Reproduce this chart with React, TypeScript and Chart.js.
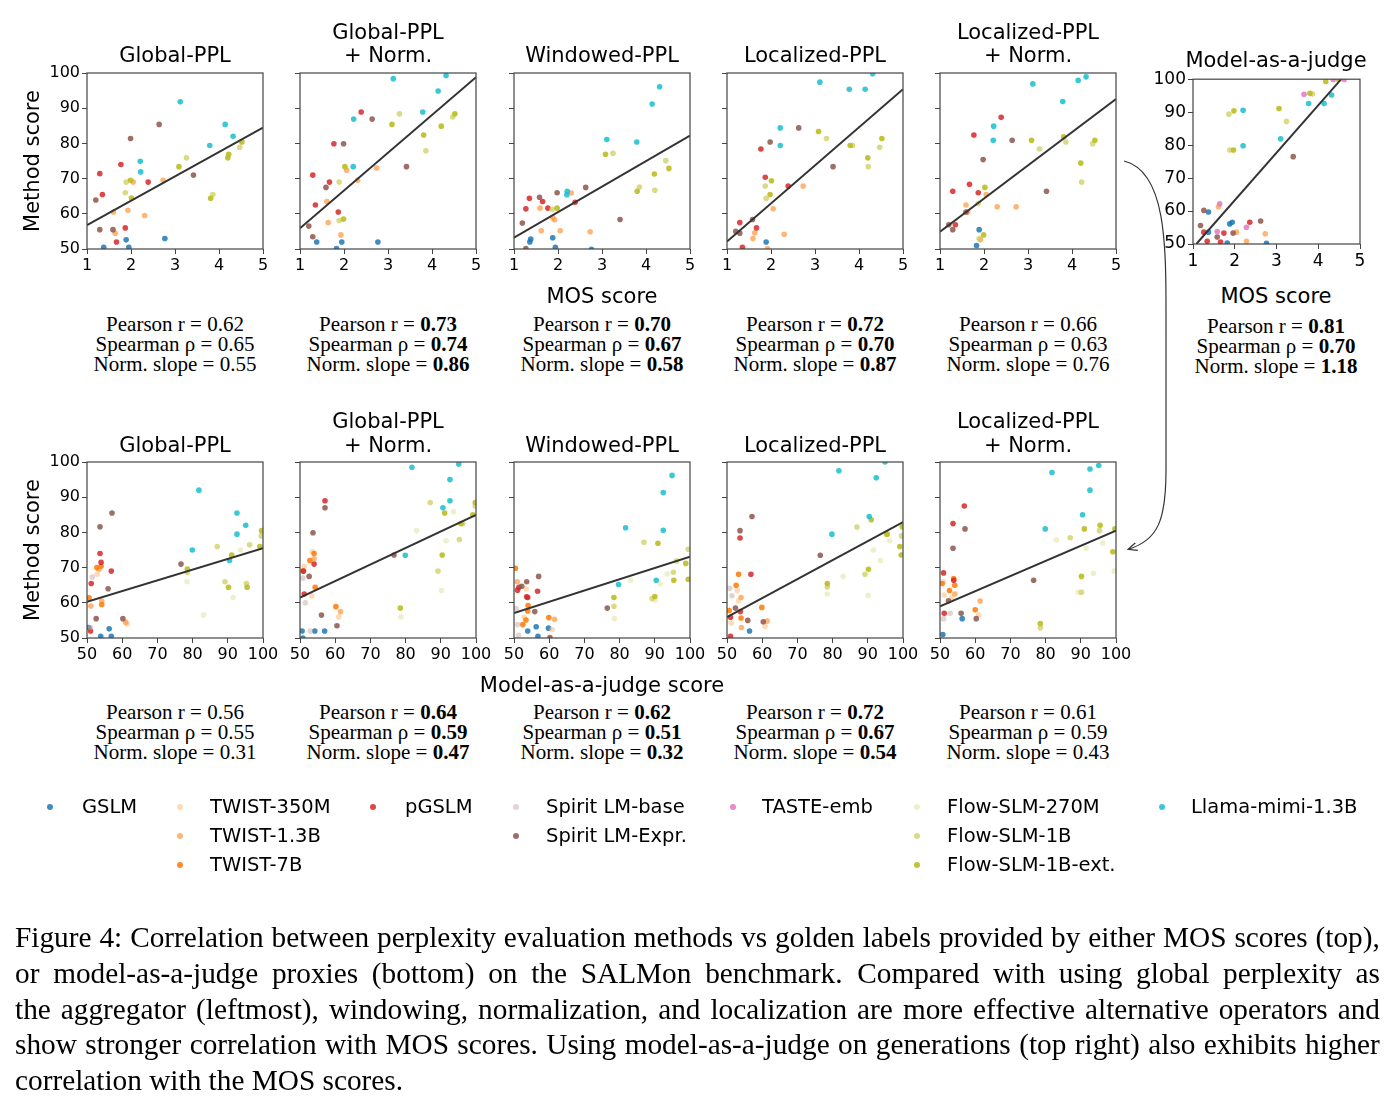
import React, { useEffect, useRef } from "react";
import { Chart, registerables } from "chart.js";
Chart.register(...registerables);

type Pt = [number, number, number];

const SERIES = ["GSLM", "TWIST-350M", "TWIST-1.3B", "TWIST-7B", "pGSLM", "Spirit LM-base", "Spirit LM-Expr.", "TASTE-emb", "Flow-SLM-270M", "Flow-SLM-1B", "Flow-SLM-1B-ext.", "Llama-mimi-1.3B"];
const COLORS = [
  "rgba(31,119,180,0.85)", "rgba(255,187,120,0.55)", "rgba(255,150,60,0.7)", "rgba(255,127,14,0.9)",
  "rgba(214,39,40,0.85)", "rgba(196,170,165,0.5)", "rgba(140,86,75,0.85)", "rgba(227,119,194,0.85)",
  "rgba(219,219,141,0.45)", "rgba(205,205,95,0.75)", "rgba(188,189,34,0.9)", "rgba(23,190,207,0.85)",
];

// ---------- Top row: method score vs MOS ----------
const P1_PTS: Pt[] = [
  [3.12, 91.8, 11], [4.14, 85.4, 11], [4.32, 82.0, 11], [3.79, 79.4, 11], [2.21, 74.9, 11], [2.22, 71.9, 11],
  [2.64, 85.4, 6], [1.99, 81.4, 6], [3.42, 71.0, 6], [1.20, 63.9, 6], [1.29, 55.5, 6], [1.59, 55.5, 6],
  [1.77, 74.0, 4], [1.29, 71.4, 4], [2.39, 69.0, 4], [1.35, 65.5, 4], [1.87, 56.0, 4], [1.67, 52.0, 4],
  [3.26, 75.9, 9], [1.89, 69.0, 9], [1.87, 66.0, 9], [3.86, 65.5, 9], [4.47, 78.9, 9],
  [3.09, 73.4, 10], [1.99, 69.5, 10], [2.01, 64.5, 10], [3.81, 64.4, 10], [4.20, 75.9, 10], [4.22, 76.9, 10], [4.52, 80.4, 10],
  [2.05, 69.0, 2], [2.73, 69.5, 2], [1.93, 61.0, 2], [1.60, 60.5, 2], [2.31, 59.5, 2], [1.64, 54.5, 2],
  [1.89, 52.6, 0], [2.77, 53.0, 0], [1.38, 50.5, 0], [1.95, 50.5, 0],
];
const P2_PTS: Pt[] = [
  [3.12, 98.4, 11], [4.32, 99.3, 11], [4.14, 94.9, 11], [3.79, 88.9, 11], [2.22, 86.9, 11], [2.21, 73.4, 11],
  [2.39, 88.9, 4], [1.77, 79.9, 4], [1.29, 71.0, 4], [1.67, 69.0, 4], [1.35, 62.5, 4], [1.87, 60.5, 4],
  [2.64, 86.9, 6], [1.99, 79.9, 6], [3.42, 73.4, 6], [1.59, 67.5, 6], [1.20, 56.5, 6], [1.29, 53.5, 6],
  [3.09, 85.4, 10], [4.21, 84.9, 10], [4.52, 88.4, 10], [3.81, 82.4, 10], [2.02, 73.4, 10], [1.99, 58.5, 10],
  [3.26, 88.4, 9], [4.47, 87.5, 9], [3.86, 77.9, 9], [1.89, 69.0, 9], [1.89, 58.1, 9],
  [2.06, 72.4, 2], [2.74, 73.0, 2], [2.31, 69.5, 2], [1.61, 63.5, 2], [1.64, 57.5, 2], [1.93, 54.0, 2],
  [1.38, 52.0, 0], [1.95, 52.0, 0], [2.77, 52.0, 0], [1.83, 50.1, 0],
];
const P3_PTS: Pt[] = [
  [4.31, 96.1, 11], [4.14, 91.2, 11], [3.11, 81.1, 11], [3.79, 80.4, 11], [2.21, 66.4, 11], [2.20, 65.4, 11],
  [3.08, 76.9, 10], [4.19, 71.3, 10], [4.52, 72.9, 10], [3.80, 66.4, 10], [1.98, 61.6, 10],
  [3.25, 77.2, 9], [4.45, 75.1, 9], [3.85, 67.6, 9], [4.20, 66.7, 9], [1.87, 61.3, 9],
  [1.35, 64.4, 4], [1.65, 63.5, 4], [1.27, 61.4, 4], [1.77, 61.6, 4], [2.39, 63.3, 4],
  [1.58, 64.7, 6], [1.98, 66.0, 6], [2.63, 67.5, 6], [1.19, 57.4, 6], [3.41, 58.4, 6], [1.27, 50.1, 6],
  [2.30, 65.9, 2], [1.59, 61.6, 2], [1.88, 58.9, 2], [1.92, 58.3, 2], [1.62, 55.2, 2], [2.05, 55.2, 2], [2.73, 54.9, 2],
  [1.38, 52.8, 0], [1.36, 52.0, 0], [1.88, 53.2, 0], [1.94, 50.5, 0], [2.76, 49.9, 0],
];
const P4_PTS: Pt[] = [
  [3.11, 97.4, 11], [4.31, 99.8, 11], [3.78, 95.4, 11], [4.14, 95.4, 11], [2.21, 84.4, 11], [2.21, 79.4, 11],
  [2.63, 84.4, 6], [1.98, 80.4, 6], [3.41, 73.4, 6], [1.58, 58.4, 6], [1.20, 55.0, 6], [1.29, 54.5, 6],
  [1.77, 78.4, 4], [1.87, 70.4, 4], [2.39, 67.9, 4], [1.29, 57.5, 4], [1.67, 56.0, 4], [1.35, 50.5, 4],
  [3.08, 83.4, 10], [4.52, 81.4, 10], [3.80, 79.4, 10], [4.20, 75.9, 10], [2.01, 69.4, 10], [1.98, 65.5, 10],
  [3.26, 81.4, 9], [3.85, 79.4, 9], [4.47, 78.9, 9], [4.21, 73.4, 9], [1.87, 67.9, 9], [1.89, 64.4, 9],
  [2.73, 67.9, 2], [2.05, 61.4, 2], [1.63, 54.6, 2], [1.59, 53.0, 2], [2.30, 54.2, 2], [1.92, 50.1, 2],
  [1.89, 52.0, 0],
];
const P5_PTS: Pt[] = [
  [3.11, 96.9, 11], [4.14, 97.9, 11], [4.32, 98.9, 11], [3.79, 91.9, 11], [2.22, 84.9, 11], [2.21, 80.9, 11],
  [2.39, 87.4, 4], [1.77, 82.4, 4], [1.67, 68.4, 4], [1.29, 66.4, 4], [1.87, 66.0, 4], [1.35, 56.9, 4],
  [2.64, 80.9, 6], [1.98, 75.4, 6], [3.42, 66.4, 6], [1.20, 56.9, 6], [1.29, 55.5, 6], [1.59, 60.5, 6],
  [3.08, 80.9, 10], [3.81, 81.9, 10], [4.52, 80.9, 10], [4.20, 74.4, 10], [2.02, 67.5, 10], [1.99, 54.0, 10],
  [3.26, 78.4, 9], [3.86, 80.4, 9], [4.47, 79.9, 9], [4.22, 69.0, 9], [1.87, 62.9, 9], [1.89, 53.0, 9],
  [2.05, 65.5, 2], [1.59, 62.5, 2], [1.63, 60.5, 2], [2.30, 62.0, 2], [2.73, 62.0, 2], [1.92, 52.6, 2],
  [1.89, 55.5, 0], [1.83, 51.0, 0],
];
// Model-as-a-judge vs MOS
const P6_PTS: Pt[] = [
  [4.18, 99.3, 10], [3.06, 91.1, 10], [1.98, 90.4, 10], [1.97, 78.5, 10], [3.80, 95.7, 10], [4.48, 100, 10],
  [1.86, 89.4, 9], [1.88, 78.5, 9], [3.24, 87.2, 9], [3.86, 95.5, 9],
  [2.20, 90.6, 11], [2.20, 79.8, 11], [3.10, 81.9, 11], [3.77, 92.6, 11], [4.14, 92.6, 11], [4.32, 95.2, 11],
  [3.66, 95.4, 7], [4.36, 99.9, 7], [4.62, 99.9, 7], [1.64, 62.2, 7], [1.58, 53.8, 7], [2.28, 55.1, 7],
  [3.40, 76.5, 6], [1.26, 60.2, 6], [1.18, 55.6, 6], [1.58, 52.1, 6], [1.96, 53.3, 6], [2.62, 57.0, 6],
  [1.37, 59.7, 0], [1.88, 56.1, 0], [1.94, 56.6, 0], [1.37, 53.6, 0], [1.82, 50.3, 0], [2.76, 50.2, 0],
  [1.26, 53.6, 4], [1.34, 50.8, 4], [1.74, 53.3, 4], [1.66, 50.6, 4], [2.36, 56.6, 4],
  [1.61, 61.3, 2], [2.04, 53.6, 2], [2.73, 53.1, 2], [2.28, 50.8, 2],
];

// ---------- Bottom row: method score vs model-as-a-judge ----------
const P7_PTS: Pt[] = [
  [81.8, 92.0, 11], [92.6, 85.5, 11], [95.1, 82.0, 11], [92.6, 79.5, 11], [79.9, 75.0, 11], [90.5, 72.0, 11],
  [57.1, 85.5, 6], [53.7, 81.6, 6], [76.7, 71.0, 6], [56.0, 64.0, 6], [52.6, 55.5, 6], [60.2, 55.5, 6],
  [53.7, 74.0, 4], [54.0, 71.5, 4], [56.9, 69.0, 4], [51.2, 65.5, 4], [51.0, 52.0, 4],
  [52.8, 70.0, 3], [54.0, 70.4, 3], [54.2, 59.5, 3], [50.6, 61.4, 3],
  [53.4, 69.5, 2], [51.1, 59.1, 2], [61.0, 54.5, 2], [54.2, 60.5, 2],
  [52.9, 68.1, 1], [61.4, 54.0, 1],
  [51.5, 67.3, 5], [51.0, 53.0, 5],
  [99.6, 80.5, 10], [99.1, 76.0, 10], [91.1, 73.6, 10], [78.5, 69.6, 10], [90.2, 64.4, 10], [95.5, 64.4, 10],
  [87.0, 76.0, 9], [99.5, 79.0, 9], [96.2, 76.5, 9], [78.5, 68.6, 9], [89.2, 66.0, 9], [95.3, 65.5, 9],
  [93.6, 75.0, 8], [78.4, 66.0, 8], [91.5, 61.5, 8], [83.1, 56.5, 8],
  [50.5, 53.0, 0], [56.3, 52.6, 0], [53.9, 50.5, 0], [56.9, 50.5, 0],
];
const P8_PTS: Pt[] = [
  [81.8, 98.5, 11], [95.1, 99.4, 11], [92.6, 95.0, 11], [92.6, 89.0, 11], [90.6, 87.0, 11], [79.9, 73.5, 11],
  [57.1, 89.0, 4], [54.0, 71.0, 4], [51.0, 69.0, 4], [51.2, 62.5, 4],
  [57.1, 87.0, 6], [53.7, 79.9, 6], [76.7, 73.6, 6], [52.6, 67.5, 6], [56.1, 56.5, 6], [60.5, 53.5, 6],
  [52.8, 72.0, 3], [54.0, 74.0, 3], [50.8, 69.0, 3], [54.3, 64.4, 3], [60.2, 58.9, 3],
  [53.5, 74.5, 1], [54.0, 72.5, 2], [51.2, 70.4, 1], [53.4, 62.0, 1], [61.5, 57.5, 2], [61.0, 56.0, 1],
  [50.8, 67.0, 5], [51.5, 60.0, 5], [52.9, 52.0, 5],
  [91.1, 85.5, 10], [99.1, 85.0, 10], [99.8, 88.5, 10], [90.4, 73.6, 10], [95.7, 82.5, 10], [78.5, 58.5, 10],
  [87.0, 88.5, 9], [96.2, 82.5, 9], [95.3, 78.0, 9], [89.2, 69.0, 9], [99.8, 87.5, 9],
  [83.1, 80.5, 8], [93.6, 85.9, 8], [91.5, 77.6, 8], [90.2, 63.5, 8], [78.7, 56.0, 8],
  [50.6, 52.0, 0], [54.2, 52.0, 0], [57.0, 52.0, 0], [50.8, 50.0, 0],
];
const P9_PTS: Pt[] = [
  [94.9, 96.2, 11], [92.4, 91.3, 11], [81.7, 81.3, 11], [92.4, 80.6, 11], [79.7, 65.2, 11], [90.4, 66.4, 11],
  [56.7, 63.3, 4], [53.6, 61.7, 4], [53.9, 61.5, 4], [51.0, 63.6, 4], [51.4, 64.4, 4],
  [57.0, 67.5, 6], [53.6, 66.0, 6], [52.2, 64.7, 6], [55.9, 57.5, 6], [76.5, 58.5, 6], [60.2, 50.1, 6],
  [50.4, 69.8, 3], [54.0, 59.2, 3], [53.9, 57.7, 3], [52.5, 53.8, 3], [53.4, 55.1, 3], [59.9, 55.8, 3],
  [50.9, 66.0, 2], [61.5, 55.3, 2], [52.9, 55.9, 1], [53.5, 64.0, 1], [60.8, 52.4, 1],
  [50.6, 58.4, 5], [51.0, 53.8, 5], [51.3, 50.8, 5],
  [90.9, 76.9, 10], [99.5, 66.7, 10], [98.8, 71.2, 10], [95.4, 66.4, 10], [90.0, 61.8, 10], [78.4, 61.5, 10],
  [86.9, 77.2, 9], [99.5, 75.2, 9], [95.3, 68.7, 9], [89.2, 61.2, 9], [78.4, 59.0, 9], [96.2, 71.9, 9],
  [83.1, 66.4, 8], [93.5, 68.2, 8], [91.5, 65.4, 8], [90.1, 60.7, 8], [78.5, 55.5, 8],
  [56.3, 53.2, 0], [59.8, 52.8, 0], [53.9, 52.0, 0], [56.8, 50.5, 0],
];
const P10_PTS: Pt[] = [
  [81.8, 97.5, 11], [94.9, 100, 11], [92.4, 95.5, 11], [90.4, 84.5, 11], [79.8, 79.5, 11],
  [57.1, 84.5, 6], [53.7, 80.5, 6], [76.5, 73.5, 6], [52.4, 58.5, 6], [55.9, 55.0, 6], [60.3, 54.6, 6],
  [53.7, 78.4, 4], [56.8, 68.1, 4], [53.8, 57.5, 4], [51.0, 55.9, 4], [51.0, 50.5, 4],
  [53.3, 68.1, 3], [52.6, 65.0, 3], [50.6, 57.8, 3], [54.0, 55.7, 3], [59.9, 58.7, 3],
  [52.9, 63.5, 1], [54.0, 61.5, 2], [53.3, 60.6, 1], [51.2, 54.3, 1], [54.1, 53.0, 2], [61.4, 54.8, 2], [60.8, 53.3, 1],
  [50.8, 64.1, 5], [51.4, 62.0, 5],
  [91.0, 83.6, 10], [99.8, 81.6, 10], [95.5, 79.5, 10], [99.1, 76.0, 10], [99.5, 73.6, 10], [90.2, 69.5, 10], [78.5, 65.5, 10],
  [86.9, 81.5, 9], [95.3, 79.5, 9], [99.6, 79.0, 9], [89.2, 68.1, 9], [78.5, 64.5, 9],
  [96.2, 77.6, 8], [91.6, 75.0, 8], [93.6, 72.0, 8], [83.0, 67.5, 8], [78.5, 62.5, 8], [90.1, 62.1, 8],
  [56.4, 52.0, 0],
];
const P11_PTS: Pt[] = [
  [81.8, 97.0, 11], [92.6, 98.0, 11], [95.1, 99.0, 11], [92.6, 92.0, 11], [90.5, 85.0, 11], [79.9, 81.0, 11],
  [56.9, 87.5, 4], [53.7, 82.5, 4], [51.0, 68.5, 4], [53.9, 66.4, 4], [51.2, 57.0, 4],
  [57.1, 81.0, 6], [53.7, 75.5, 6], [76.6, 66.4, 6], [52.4, 60.6, 6], [56.0, 57.0, 6], [60.3, 55.5, 6],
  [53.9, 66.9, 3], [54.2, 65.0, 3], [52.7, 63.5, 3], [50.6, 65.5, 3], [60.0, 58.0, 3],
  [61.4, 60.5, 2], [51.2, 62.2, 1], [54.2, 62.5, 2], [53.3, 61.5, 1], [51.0, 66.0, 1], [61.0, 56.5, 1],
  [51.0, 55.5, 5], [52.9, 57.0, 5],
  [91.0, 81.0, 10], [95.5, 82.0, 10], [99.7, 81.0, 10], [99.1, 74.5, 10], [90.2, 67.5, 10], [78.5, 54.1, 10],
  [87.0, 78.5, 9], [95.3, 80.5, 9], [90.2, 63.0, 9], [78.5, 52.9, 9],
  [83.1, 77.9, 8], [91.5, 75.5, 8], [96.2, 77.0, 8], [93.6, 68.4, 8], [99.5, 69.0, 8], [89.3, 63.0, 8],
  [56.3, 55.5, 0], [50.8, 51.0, 0],
];

// Regression line end points [x0, y0, x1, y1]
const FITS: number[][] = [
  [1, 56.8, 5, 84.5], [1, 55.9, 5, 98.8], [1, 53.2, 5, 82.2], [1, 52.1, 5, 95.4], [1, 54.9, 5, 92.6],
  [1.08, 50, 4.55, 100],
  [50, 60.3, 100, 75.5], [50, 61.5, 100, 85.0], [50, 57.1, 100, 73.1], [50, 55.9, 100, 82.9], [50, 59.0, 100, 80.5],
];

const TITLES: string[][] = [
  ["Global-PPL"], ["Global-PPL", "+ Norm."], ["Windowed-PPL"], ["Localized-PPL"], ["Localized-PPL", "+ Norm."],
];

// [pearson, spearman, slope, bold]
const TOP_STATS: (number | boolean)[][] = [
  [0.62, 0.65, 0.55, false], [0.73, 0.74, 0.86, true], [0.70, 0.67, 0.58, true], [0.72, 0.70, 0.87, true], [0.66, 0.63, 0.76, false],
];
const JUDGE_STATS: (number | boolean)[] = [0.81, 0.70, 1.18, true];
const BOTTOM_STATS: (number | boolean)[][] = [
  [0.56, 0.55, 0.31, false], [0.64, 0.59, 0.47, true], [0.62, 0.51, 0.32, true], [0.72, 0.67, 0.54, true], [0.61, 0.59, 0.43, false],
];

const CAPTION = [
  "Figure 4: Correlation between perplexity evaluation methods vs golden labels provided by either MOS scores (top),",
  "or model-as-a-judge proxies (bottom) on the SALMon benchmark.\u2002Compared with using global perplexity as",
  "the aggregator (leftmost), windowing, normalization, and localization are more effective alternative operators and",
  "show stronger correlation with MOS scores. Using model-as-a-judge on generations (top right) also exhibits higher",
  "correlation with the MOS scores.",
];

const SANS = "'DejaVu Sans', sans-serif";
const SERIF = "'Liberation Serif', 'Times New Roman', serif";

const COL_X = [87, 300, 514, 727, 940];
const TOP_Y = 73;
const BOT_Y = 462;
const BOX = 176;
const YW = 45;
const XH = 26;
const PAD_T = 12;
const PAD_R = 22;

const framePlugin = {
  id: "frame",
  afterDatasetsDraw(chart: any) {
    const { ctx, chartArea } = chart;
    ctx.save();
    ctx.strokeStyle = "#444";
    ctx.lineWidth = 1.2;
    ctx.strokeRect(chartArea.left, chartArea.top, chartArea.right - chartArea.left, chartArea.bottom - chartArea.top);
    ctx.restore();
  },
};

type PanelProps = {
  left: number; top: number; w: number; h: number;
  pts: Pt[]; fit: number[]; xmin: number; xmax: number; xstep: number;
  yLabels: boolean; tickSize: number;
};

function Panel(p: PanelProps) {
  const ref = useRef<HTMLCanvasElement>(null);
  const cw = p.w + YW + PAD_R;
  const ch = p.h + PAD_T + XH;
  useEffect(() => {
    const pts = [...p.pts].sort((a, b) => a[2] - b[2]);
    const tickFont = { family: SANS, size: p.tickSize };
    const grid = { drawOnChartArea: false, drawTicks: true, tickLength: 5, color: "#444", lineWidth: 1 };
    const chart = new Chart(ref.current as HTMLCanvasElement, {
      type: "scatter",
      data: {
        datasets: [
          {
            type: "line",
            data: [{ x: p.fit[0], y: p.fit[1] }, { x: p.fit[2], y: p.fit[3] }],
            borderColor: "#333",
            borderWidth: 2,
            pointRadius: 0,
            fill: false,
          } as any,
          {
            type: "scatter",
            data: pts.map((q) => ({ x: q[0], y: q[1] })),
            pointBackgroundColor: pts.map((q) => COLORS[q[2]]),
            pointBorderColor: "rgba(0,0,0,0)",
            pointBorderWidth: 0,
            pointRadius: 2.8,
          } as any,
        ],
      },
      options: {
        responsive: false,
        animation: false,
        events: [],
        layout: { padding: { top: PAD_T, right: PAD_R, left: 0, bottom: 0 } },
        plugins: { legend: { display: false }, tooltip: { enabled: false } },
        scales: {
          x: {
            type: "linear", min: p.xmin, max: p.xmax,
            ticks: { stepSize: p.xstep, font: tickFont, color: "#000", padding: 2, maxRotation: 0, autoSkip: false },
            grid, border: { display: false },
            afterFit: (s: any) => { s.height = XH; },
          },
          y: {
            type: "linear", min: 50, max: 100,
            ticks: { stepSize: 10, display: p.yLabels, font: tickFont, color: "#000", padding: 2 },
            grid, border: { display: false },
            afterFit: (s: any) => { s.width = YW; },
          },
        },
      } as any,
      plugins: [framePlugin],
    });
    return () => chart.destroy();
  }, []);
  return (
    <canvas
      ref={ref}
      width={cw}
      height={ch}
      style={{ position: "absolute", left: p.left - YW, top: p.top - PAD_T, width: cw, height: ch }}
    />
  );
}

function Txt({ x, y, children, style }: any) {
  return (
    <div style={{ position: "absolute", left: x, top: y, transform: "translate(-50%,-50%)", whiteSpace: "nowrap", fontFamily: SANS, fontSize: 21, color: "#000", lineHeight: 1, ...style }}>
      {children}
    </div>
  );
}

function Stats({ cx, top, s }: { cx: number; top: number; s: (number | boolean)[] }) {
  const v = (n: any) => (s[3] ? <b>{(n as number).toFixed(2)}</b> : (n as number).toFixed(2));
  return (
    <div style={{ position: "absolute", left: cx, top, transform: "translateX(-50%)", textAlign: "center", fontFamily: SERIF, fontSize: 21, lineHeight: "20px", whiteSpace: "nowrap", color: "#000" }}>
      <div>Pearson r = {v(s[0])}</div>
      <div>Spearman ρ = {v(s[1])}</div>
      <div>Norm. slope = {v(s[2])}</div>
    </div>
  );
}

const LEGEND_POS: number[][] = [
  [50, 82, 807], [180, 210, 807], [180, 210, 836], [180, 210, 865], [373, 405, 807], [516, 546, 807],
  [516, 546, 836], [733, 762, 807], [917, 947, 807], [917, 947, 836], [917, 947, 865], [1162, 1191, 807],
];

export default function App() {
  const topPts = [P1_PTS, P2_PTS, P3_PTS, P4_PTS, P5_PTS];
  const botPts = [P7_PTS, P8_PTS, P9_PTS, P10_PTS, P11_PTS];
  return (
    <div style={{ position: "absolute", left: 0, top: 0, width: 1395, height: 1113, background: "#fff", overflow: "hidden" }}>
      {COL_X.map((x, i) => (
        <Panel key={"t" + i} left={x} top={TOP_Y} w={BOX} h={BOX} pts={topPts[i]} fit={FITS[i]} xmin={1} xmax={5} xstep={1} yLabels={i === 0} tickSize={16} />
      ))}
      {COL_X.map((x, i) => (
        <Panel key={"b" + i} left={x} top={BOT_Y} w={BOX} h={BOX} pts={botPts[i]} fit={FITS[6 + i]} xmin={50} xmax={100} xstep={10} yLabels={i === 0} tickSize={16} />
      ))}
      <Panel left={1193} top={79} w={167} h={165} pts={P6_PTS} fit={FITS[5]} xmin={1} xmax={5} xstep={1} yLabels={true} tickSize={17} />

      {/* titles */}
      {COL_X.map((x, i) => {
        const cx = x + BOX / 2;
        const t = TITLES[i];
        return (
          <React.Fragment key={"ti" + i}>
            {t.length === 1 ? (
              <>
                <Txt x={cx} y={55}>{t[0]}</Txt>
                <Txt x={cx} y={445}>{t[0]}</Txt>
              </>
            ) : (
              <>
                <Txt x={cx} y={32}>{t[0]}</Txt>
                <Txt x={cx} y={55}>{t[1]}</Txt>
                <Txt x={cx} y={421}>{t[0]}</Txt>
                <Txt x={cx} y={445}>{t[1]}</Txt>
              </>
            )}
            <Stats cx={cx} top={314} s={TOP_STATS[i]} />
            <Stats cx={cx} top={702} s={BOTTOM_STATS[i]} />
          </React.Fragment>
        );
      })}
      <Txt x={1276} y={60}>Model-as-a-judge</Txt>
      <Stats cx={1276} top={316} s={JUDGE_STATS} />

      {/* axis labels */}
      <Txt x={602} y={296}>MOS score</Txt>
      <Txt x={1276} y={296}>MOS score</Txt>
      <Txt x={602} y={685}>Model-as-a-judge score</Txt>
      <Txt x={32} y={161} style={{ transform: "translate(-50%,-50%) rotate(-90deg)" }}>Method score</Txt>
      <Txt x={32} y={550} style={{ transform: "translate(-50%,-50%) rotate(-90deg)" }}>Method score</Txt>

      {/* arrow */}
      <svg width={1395} height={1113} style={{ position: "absolute", left: 0, top: 0, pointerEvents: "none" }}>
        <defs>
          <marker id="ah" markerWidth="10" markerHeight="10" refX="8" refY="5" orient="auto" markerUnits="userSpaceOnUse">
            <path d="M0,1 L9,5 L0,9" fill="none" stroke="#333" strokeWidth="1.2" />
          </marker>
        </defs>
        <path d="M1124,161 C1168,172 1166,250 1166,330 L1166,470 C1166,520 1158,540 1129,549" fill="none" stroke="#333" strokeWidth="1.2" markerEnd="url(#ah)" />
      </svg>

      {/* legend */}
      {SERIES.map((s, i) => {
        const [mx, tx, y] = LEGEND_POS[i];
        return (
          <React.Fragment key={"lg" + i}>
            <div style={{ position: "absolute", left: mx - 3, top: y - 3, width: 6, height: 6, borderRadius: 3, background: COLORS[i] }} />
            <div style={{ position: "absolute", left: tx, top: y, transform: "translateY(-50%)", fontFamily: SANS, fontSize: 19.5, lineHeight: 1, whiteSpace: "nowrap" }}>{s}</div>
          </React.Fragment>
        );
      })}

      {/* caption */}
      <div style={{ position: "absolute", left: 15, top: 920, width: 1365, fontFamily: SERIF, fontSize: 29.3, lineHeight: "35.8px", color: "#000" }}>
        {CAPTION.map((line, i) =>
          i < CAPTION.length - 1 ? (
            <div key={i} style={{ display: "flex", justifyContent: "space-between", whiteSpace: "nowrap" }}>
              {line.split(" ").map((w, j) => (
                <span key={j}>{w}</span>
              ))}
            </div>
          ) : (
            <div key={i} style={{ whiteSpace: "nowrap" }}>{line}</div>
          )
        )}
      </div>
    </div>
  );
}
